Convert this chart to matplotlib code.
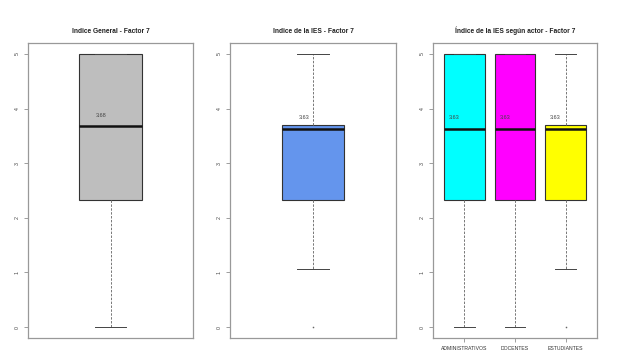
import matplotlib
matplotlib.use("Agg")
import matplotlib.pyplot as plt

plt.rcParams['font.family'] = ['Liberation Sans', 'DejaVu Sans']

# ---- data ----
titles = ["Indice General - Factor 7", "Indice de la IES - Factor 7",
          "Índice de la IES según actor - Factor 7"]

gen_q1, gen_med, gen_q3, gen_lo, gen_hi = [2.32], [3.68], [5.0], [0.0], [5.0]
gen_fliers = [[]]
gen_colors = ["#bebebe"]

ies_q1, ies_med, ies_q3, ies_lo, ies_hi = [2.32], [3.63], [3.69], [1.07], [5.0]
ies_fliers = [[0.0]]
ies_colors = ["#6495ed"]

actors = ["ADMINISTRATIVOS", "DOCENTES", "ESTUDIANTES"]
act_q1 = [2.32, 2.32, 2.32]
act_med = [3.63, 3.63, 3.63]
act_q3 = [5.0, 5.0, 3.69]
act_lo = [0.0, 0.0, 1.07]
act_hi = [5.0, 5.0, 5.0]
act_fliers = [[], [], [0.0]]
act_colors = ["#00ffff", "#ff00ff", "#ffff00"]

yticks = [0, 1, 2, 3, 4, 5]

W, H = 617, 362
fig = plt.figure(figsize=(W / 100, H / 100), dpi=100)

def px_axes(l, r, t, b):
    return fig.add_axes([l / W, (H - b) / H, (r - l) / W, (b - t) / H])

def draw(ax, q1, med, q3, lo, hi, fliers, colors, width, labels, title):
    n = len(med)
    stats = []
    for i in range(n):
        stats.append(dict(med=med[i], q1=q1[i], q3=q3[i], whislo=lo[i],
                          whishi=hi[i], fliers=fliers[i]))
    pos = list(range(1, n + 1))
    b = ax.bxp(stats, positions=pos, widths=width, capwidths=width / 2,
               patch_artist=True, showfliers=True,
               boxprops=dict(edgecolor="#333333", linewidth=0.8),
               medianprops=dict(color="#111111", linewidth=1.8),
               whiskerprops=dict(color="#777777", linewidth=0.7, linestyle=(0, (2.5, 1.5))),
               capprops=dict(color="#444444", linewidth=0.7),
               flierprops=dict(marker='s', markersize=0.8, markerfacecolor="#666666",
                               markeredgecolor="#666666", markeredgewidth=0.2))
    for p, c in zip(b['boxes'], colors):
        p.set_facecolor(c)
    for i in range(n):
        ax.text(pos[i] - (0.06 if n == 1 else 0.2), med[i] + 0.2, f"{med[i]:.2f}",
                ha='center', va='center', fontsize=4.0, color="#444444")
    pad = 0.04 * n
    ax.set_xlim(0.5 - pad, n + 0.5 + pad)
    ax.set_ylim(-0.2, 5.2)
    ax.set_yticks(yticks)
    ax.set_yticklabels([str(t) for t in yticks], rotation=90, va='center', fontsize=3.8,
                       color="#444444")
    if labels:
        ax.set_xticks(pos)
        ax.set_xticklabels(labels, fontsize=3.7, color="#333333")
    else:
        ax.set_xticks([])
    ax.tick_params(length=3, width=0.5, color="#777777", pad=3)
    for s in ax.spines.values():
        s.set_color("#999999")
        s.set_linewidth(0.9)
    ax.set_title(title, fontsize=4.8, fontweight='bold', pad=7, color="#222222")

ax1 = px_axes(28, 193, 43, 338)
draw(ax1, gen_q1, gen_med, gen_q3, gen_lo, gen_hi, gen_fliers, gen_colors, 0.406, None, titles[0])
ax2 = px_axes(230, 396, 43, 338)
draw(ax2, ies_q1, ies_med, ies_q3, ies_lo, ies_hi, ies_fliers, ies_colors, 0.406, None, titles[1])
ax3 = px_axes(433, 597, 43, 338)
draw(ax3, act_q1, act_med, act_q3, act_lo, act_hi, act_fliers, act_colors, 0.8, actors, titles[2])

fig.savefig("out.png", dpi=100)
